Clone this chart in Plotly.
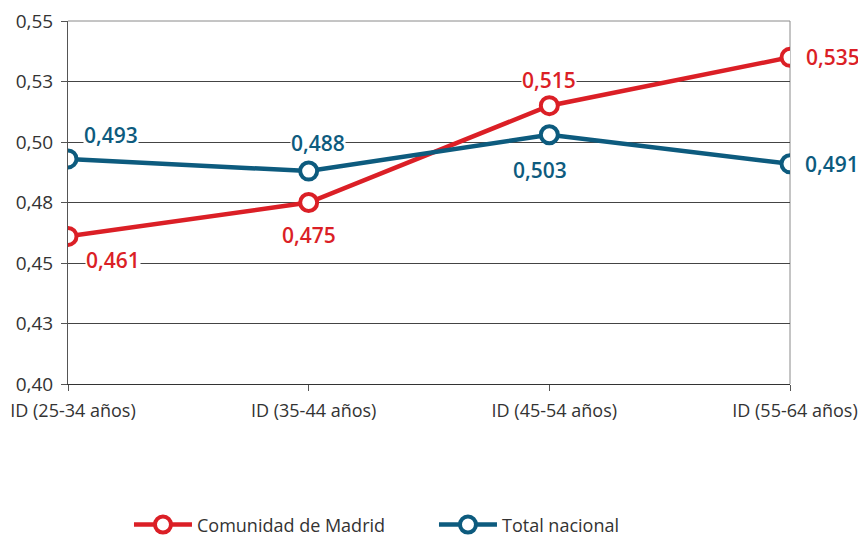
import plotly.graph_objects as go

# data
categories = ["ID (25-34 años)", "ID (35-44 años)", "ID (45-54 años)", "ID (55-64 años)"]
madrid = [0.461, 0.475, 0.515, 0.535]
nacional = [0.493, 0.488, 0.503, 0.491]
y_ticks = [0.400, 0.425, 0.450, 0.475, 0.500, 0.525, 0.550]
y_tick_labels = ["0,40", "0,43", "0,45", "0,48", "0,50", "0,53", "0,55"]

RED = "#DB1F26"
BLUE = "#0D5B7E"
FONT = "Open Sans"

x_idx = list(range(len(categories)))

fig = go.Figure()
for name, vals, col in [("Comunidad de Madrid", madrid, RED), ("Total nacional", nacional, BLUE)]:
    fig.add_trace(go.Scatter(
        x=x_idx, y=vals, name=name, mode="lines+markers",
        line=dict(color=col, width=4.5),
        marker=dict(symbol="circle", size=17, color="white", line=dict(color=col, width=4)),
    ))

# value label offsets: (xshift, yshift, xanchor) per point
madrid_pos = [(17, -24, "left"), (0, -32, "center"), (0, 26, "center"), (15, 0, "left")]
nacional_pos = [(15, 24, "left"), (9, 28, "center"), (-9, -35, "center"), (14, 0, "left")]

for vals, pos, col in [(madrid, madrid_pos, RED), (nacional, nacional_pos, BLUE)]:
    for i, v in enumerate(vals):
        dx, dy, anc = pos[i]
        fig.add_annotation(
            x=i, y=v, text=f"{v:.3f}".replace(".", ","), showarrow=False,
            xshift=dx, yshift=dy, xanchor=anc,
            font=dict(family=FONT, size=21, color=col, weight=600),
            bgcolor="white", borderpad=0,
        )

# top and right frame lines (lighter gray)
fig.add_shape(type="line", xref="paper", yref="paper", x0=0, x1=1, y0=1, y1=1,
              line=dict(color="#8a8a8a", width=1), layer="below")
fig.add_shape(type="line", xref="paper", yref="paper", x0=1, x1=1, y0=0, y1=1,
              line=dict(color="#8a8a8a", width=1), layer="below")

fig.update_layout(
    width=858, height=528,
    margin=dict(l=60, r=76, t=13, b=152, autoexpand=False),
    plot_bgcolor="white", paper_bgcolor="white",
    font=dict(family=FONT, size=19, color="#333333"),
    showlegend=True,
    legend=dict(orientation="h", xref="container", yref="container",
                x=0.141, xanchor="left", y=0.021, yanchor="middle",
                font=dict(family=FONT, size=18, color="#333333"),
                itemwidth=58, entrywidth=232, entrywidthmode="pixels"),
    xaxis=dict(
        tickmode="array", tickvals=x_idx, ticktext=categories,
        range=[0, 3], showgrid=False, zeroline=False, automargin=False,
        showline=True, linecolor="#333333", linewidth=1,
        ticks="outside", ticklen=6, tickcolor="#555555",
        ticklabeloverflow="allow", ticklabelshift=5, ticklabelstandoff=4,
        tickfont=dict(family=FONT, size=18, color="#333333"),
    ),
    yaxis=dict(
        range=[0.40, 0.55], tickmode="array", tickvals=y_ticks, ticktext=y_tick_labels,
        showgrid=True, gridcolor="#444444", gridwidth=1, zeroline=False, automargin=False,
        showline=True, linecolor="#555555", linewidth=1,
        ticks="outside", ticklen=6, tickcolor="#555555",
        ticklabeloverflow="allow", ticklabelstandoff=4,
        tickfont=dict(family=FONT, size=19, color="#333333"),
    ),
)

fig.write_html("out.html")
